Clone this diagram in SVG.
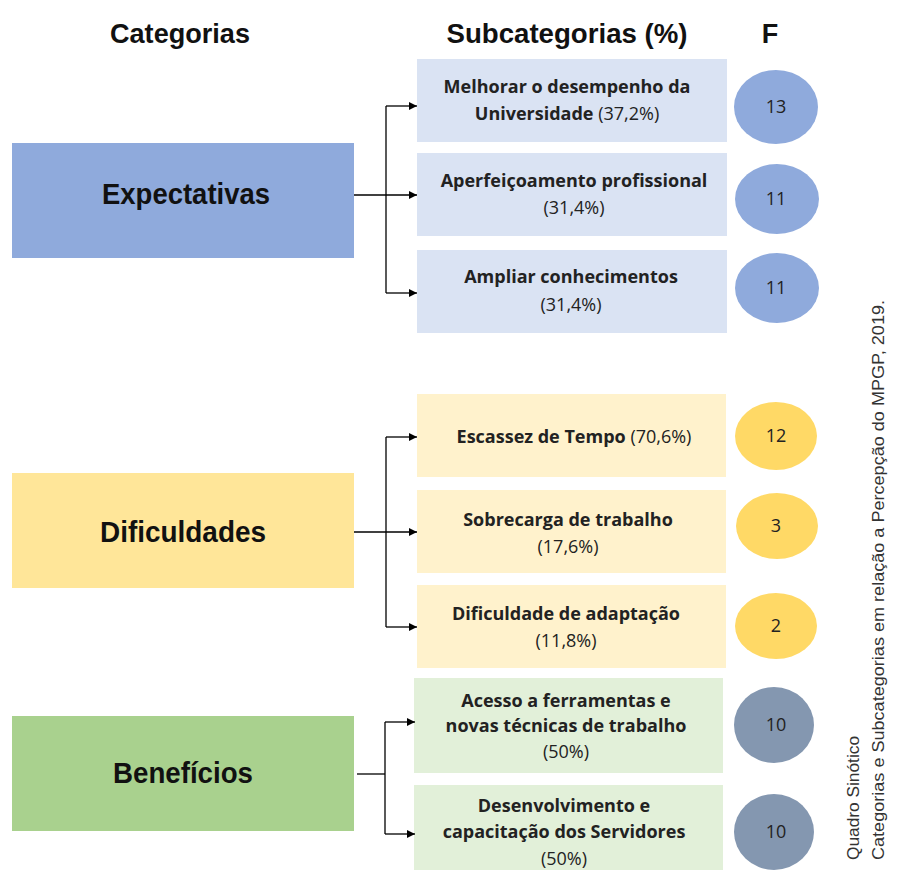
<svg xmlns="http://www.w3.org/2000/svg" width="916" height="873" viewBox="0 0 916 873">
<defs>
<style>
.hdr{font-family:"Liberation Sans",Arial,sans-serif;font-weight:bold;font-size:27px;fill:#111;text-anchor:middle}
.cat{font-family:"Liberation Sans",Arial,sans-serif;font-weight:bold;font-size:29px;fill:#111;text-anchor:middle}
.sub{font-family:"Open Sans",sans-serif;font-size:18px;fill:#222;text-anchor:middle}
.b{font-weight:bold}
.num{font-family:"Open Sans",sans-serif;font-size:18px;fill:#222;text-anchor:middle}
.note{font-family:"Liberation Sans",Arial,sans-serif;font-size:17px;fill:#333}
.conn{fill:none;stroke:#000;stroke-width:1.3}
</style>
<marker id="arr" viewBox="0 0 10 10" refX="10" refY="5" markerWidth="8" markerHeight="8" markerUnits="userSpaceOnUse" orient="auto">
<path d="M0,0 L10,5 L0,10 z" fill="#000"/>
</marker>
</defs>
<rect width="916" height="873" fill="#fff"/>

<g id="headers">
<text class="hdr" x="180" y="43" textLength="140" lengthAdjust="spacingAndGlyphs">Categorias</text>
<text class="hdr" x="567" y="43" textLength="241" lengthAdjust="spacingAndGlyphs">Subcategorias (%)</text>
<text class="hdr" x="770" y="43">F</text>
</g>

<g id="cat-expectativas">
<rect x="12" y="143" width="342" height="115" fill="#8FAADC"/>
<text class="cat" x="186" y="204" textLength="168" lengthAdjust="spacingAndGlyphs">Expectativas</text>
</g>
<g id="cat-dificuldades">
<rect x="12" y="473" width="342" height="115" fill="#FFE699"/>
<text class="cat" x="183" y="542" textLength="166" lengthAdjust="spacingAndGlyphs">Dificuldades</text>
</g>
<g id="cat-beneficios">
<rect x="12" y="716" width="342" height="115" fill="#A9D18E"/>
<text class="cat" x="183" y="783" textLength="140" lengthAdjust="spacingAndGlyphs">Benefícios</text>
</g>

<g id="sub-e1">
<rect x="417" y="59" width="310" height="83" fill="#DAE3F3"/>
<text class="sub b" x="567" y="93">Melhorar o desempenho da</text>
<text class="sub" x="567" y="120"><tspan class="b">Universidade</tspan> (37,2%)</text>
</g>
<g id="sub-e2">
<rect x="417" y="153" width="310" height="83" fill="#DAE3F3"/>
<text class="sub b" x="574" y="187">Aperfeiçoamento profissional</text>
<text class="sub" x="574" y="214">(31,4%)</text>
</g>
<g id="sub-e3">
<rect x="417" y="250" width="310" height="83" fill="#DAE3F3"/>
<text class="sub b" x="571" y="283">Ampliar conhecimentos</text>
<text class="sub" x="571" y="311">(31,4%)</text>
</g>

<g id="sub-d1">
<rect x="417" y="394" width="309" height="83" fill="#FFF2CC"/>
<text class="sub" x="574" y="443"><tspan class="b">Escassez de Tempo</tspan> (70,6%)</text>
</g>
<g id="sub-d2">
<rect x="417" y="490" width="309" height="83" fill="#FFF2CC"/>
<text class="sub b" x="568" y="526">Sobrecarga de trabalho</text>
<text class="sub" x="568" y="553">(17,6%)</text>
</g>
<g id="sub-d3">
<rect x="417" y="585" width="309" height="83" fill="#FFF2CC"/>
<text class="sub b" x="566" y="620">Dificuldade de adaptação</text>
<text class="sub" x="566" y="647">(11,8%)</text>
</g>

<g id="sub-b1">
<rect x="414" y="678" width="309" height="95" fill="#E2F0D9"/>
<text class="sub b" x="566" y="707">Acesso a ferramentas e</text>
<text class="sub b" x="566" y="732">novas técnicas de trabalho</text>
<text class="sub" x="566" y="758">(50%)</text>
</g>
<g id="sub-b2">
<rect x="414" y="785" width="309" height="85" fill="#E2F0D9"/>
<text class="sub b" x="564" y="812">Desenvolvimento e</text>
<text class="sub b" x="564" y="838">capacitação dos Servidores</text>
<text class="sub" x="564" y="865">(50%)</text>
</g>

<g id="f-e1"><ellipse cx="776" cy="107" rx="42" ry="37" fill="#8FAADC"/><text class="num" x="776" y="113">13</text></g>
<g id="f-e2"><ellipse cx="777" cy="199" rx="42" ry="35" fill="#8FAADC"/><text class="num" x="776" y="205">11</text></g>
<g id="f-e3"><ellipse cx="777" cy="288" rx="42" ry="35" fill="#8FAADC"/><text class="num" x="776" y="294">11</text></g>
<g id="f-d1"><ellipse cx="776" cy="436" rx="41" ry="34" fill="#FFD966"/><text class="num" x="776" y="442">12</text></g>
<g id="f-d2"><ellipse cx="777" cy="526" rx="41" ry="33" fill="#FFD966"/><text class="num" x="776" y="532">3</text></g>
<g id="f-d3"><ellipse cx="776" cy="626" rx="41" ry="33" fill="#FFD966"/><text class="num" x="776" y="632">2</text></g>
<g id="f-b1"><ellipse cx="774" cy="725" rx="40" ry="38" fill="#8497B0"/><text class="num" x="776" y="731">10</text></g>
<g id="f-b2"><ellipse cx="774" cy="832" rx="40" ry="38" fill="#8497B0"/><text class="num" x="776" y="838">10</text></g>

<g id="connectors">
<path class="conn" d="M354,195 H417" marker-end="url(#arr)"/>
<path class="conn" d="M386,106 V293"/>
<path class="conn" d="M386,106 H417" marker-end="url(#arr)"/>
<path class="conn" d="M386,293 H417" marker-end="url(#arr)"/>

<path class="conn" d="M354,532 H417" marker-end="url(#arr)"/>
<path class="conn" d="M386,437 V627"/>
<path class="conn" d="M386,437 H417" marker-end="url(#arr)"/>
<path class="conn" d="M386,627 H417" marker-end="url(#arr)"/>

<path class="conn" d="M357,774 H385"/>
<path class="conn" d="M385,722 V834"/>
<path class="conn" d="M385,722 H415" marker-end="url(#arr)"/>
<path class="conn" d="M385,834 H415" marker-end="url(#arr)"/>
</g>

<g id="caption">
<text class="note" transform="translate(859,860) rotate(-90)" textLength="124" lengthAdjust="spacingAndGlyphs">Quadro Sinótico</text>
<text class="note" transform="translate(884,860) rotate(-90)" textLength="560" lengthAdjust="spacingAndGlyphs">Categorias e Subcategorias em relação a Percepção do MPGP, 2019.</text>
</g>
</svg>
